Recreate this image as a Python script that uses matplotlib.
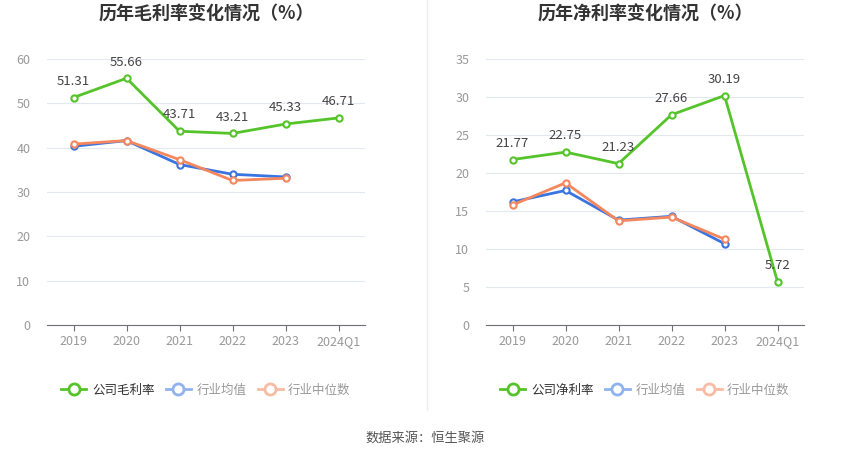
import matplotlib
matplotlib.use("Agg")
import matplotlib.pyplot as plt
from matplotlib.lines import Line2D

plt.rcParams['font.family'] = ['Noto Sans CJK SC', 'DejaVu Sans']

years = ['2019', '2020', '2021', '2022', '2023', '2024Q1']

# gross margin (%)
gross_company = [51.31, 55.66, 43.71, 43.21, 45.33, 46.71]
gross_ind_avg = [40.3, 41.6, 36.2, 34.0, 33.4]
gross_ind_med = [40.8, 41.6, 37.3, 32.6, 33.1]

# net margin (%)
net_company = [21.77, 22.75, 21.23, 27.66, 30.19, 5.72]
net_ind_avg = [16.2, 17.7, 13.8, 14.3, 10.7]
net_ind_med = [15.8, 18.7, 13.7, 14.2, 11.3]

green = '#55c42a'
blue = '#3a74e0'
orange = '#f5875e'

fig = plt.figure(figsize=(8.5, 4.59), dpi=100)


def draw(ax, comp, avg, med, ymax, step, title, comp_name):
    x = list(range(len(years)))
    for vals, col in [(avg, blue), (med, orange), (comp, green)]:
        ax.plot(x[:len(vals)], vals, color=col, lw=2, marker='o', ms=4.5,
                mfc='white', mec=col, mew=1.5, zorder=3)
    for xi, v in zip(x, comp):
        ax.annotate(f'{v:.2f}', (xi, v), xytext=(0, 7), textcoords='offset points',
                    ha='center', va='bottom', fontsize=9.5, color='#444')
    ax.set_xlim(-0.5, len(years) - 0.5)
    ax.set_ylim(0, ymax)
    ax.set_yticks(range(0, ymax + 1, step))
    ax.set_xticks(x)
    ax.set_xticklabels(years)
    ax.grid(axis='y', color='#e3e7f0', lw=0.8)
    ax.set_axisbelow(True)
    for s in ['top', 'right', 'left']:
        ax.spines[s].set_visible(False)
    ax.spines['bottom'].set_color('#6e7079')
    ax.tick_params(axis='y', length=0, colors='#999999', labelsize=9, pad=12)
    ax.tick_params(axis='x', length=4, color='#6e7079', colors='#999999', labelsize=9)

    # title placed in figure pixels
    pos = ax.get_position()
    fig.text(pos.x0 + pos.width / 2, 1 - 14 / 459, title, ha='center', va='center',
             fontsize=13, fontweight='bold', color='#333333')

    handles = [
        Line2D([], [], color=green, lw=2, marker='o', ms=8, mfc='white', mec=green, mew=2),
        Line2D([], [], color='#90b2ef', lw=2, marker='o', ms=8, mfc='white', mec='#90b2ef', mew=2),
        Line2D([], [], color='#f8bba4', lw=2, marker='o', ms=8, mfc='white', mec='#f8bba4', mew=2),
    ]
    leg = ax.legend(handles, [comp_name, '行业均值', '行业中位数'], ncol=3,
                    loc='center', bbox_to_anchor=(0.5, -0.245), frameon=False,
                    fontsize=9, handlelength=2.0, columnspacing=0.9, handletextpad=0.45)
    for t, c in zip(leg.get_texts(), ['#333333', '#999999', '#999999']):
        t.set_color(c)


ax1 = fig.add_axes([47 / 850, 134 / 459, 318 / 850, 266 / 459])
draw(ax1, gross_company, gross_ind_avg, gross_ind_med, 60, 10,
     '历年毛利率变化情况（%）', '公司毛利率')

ax2 = fig.add_axes([486 / 850, 134 / 459, 318 / 850, 266 / 459])
draw(ax2, net_company, net_ind_avg, net_ind_med, 35, 5,
     '历年净利率变化情况（%）', '公司净利率')

fig.add_artist(Line2D([427 / 850, 427 / 850], [49 / 459, 1], color='#eeeeee', lw=1))
fig.text(0.5, 1 - 438 / 459, '数据来源：恒生聚源', ha='center', va='center',
         fontsize=9.5, color='#555555')

fig.savefig('out.png', dpi=100)
